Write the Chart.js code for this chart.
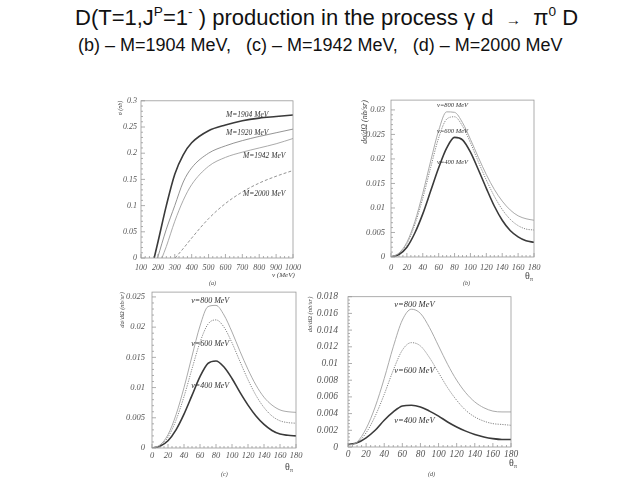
<!DOCTYPE html>
<html>
<head>
<meta charset="utf-8">
<script src="https://cdn.jsdelivr.net/npm/chart.js@4.4.1/dist/chart.umd.min.js"></script>
<style>
  html, body { margin: 0; padding: 0; background: #fff; }
  #page { position: relative; width: 640px; height: 480px; overflow: hidden; font-family: "Liberation Sans", Arial, sans-serif; }
  canvas { position: absolute; }
  .head { position: absolute; color: #111; white-space: pre; line-height: 1; }
  .head1 { left: 75px; top: 7px; font-size: 22px; }
  .head2 { left: 78px; top: 36px; font-size: 18px; }
  .head sup { font-size: 62%; vertical-align: 0.65em; line-height: 0; }
  .note { position: absolute; font-family: "Liberation Serif", serif; font-style: italic; color: #444; white-space: nowrap; line-height: 1; }
  .letter { font-size: 6px; }
  .axt { font-size: 7px; }
  .theta { font-size: 10px; font-style: normal; }
  .theta sub { font-size: 65%; vertical-align: -0.3em; }
</style>
</head>
<body>
<div id="page">
  <div class="head head1">D(T=1,J<sup>P</sup>=1<sup>-</sup> ) production in the process γ d  <span style="font-size:70%">→</span>  π<sup>0</sup> D</div>
  <div class="head head2">(b) – M=1904 MeV,   (c) – M=1942 MeV,   (d) – M=2000 MeV</div>

  <canvas id="chartA"></canvas>
  <canvas id="chartB"></canvas>
  <canvas id="chartC"></canvas>
  <canvas id="chartD"></canvas>

  <div class="note axt" style="left:272px;top:272px;">ν (MeV)</div>
  <div class="note letter" style="left:209px;top:280px;">(a)</div>
  <div class="note theta" style="left:525px;top:271px;">θ<sub>π</sub></div>
  <div class="note letter" style="left:463px;top:280px;">(b)</div>
  <div class="note theta" style="left:285px;top:462px;">θ<sub>π</sub></div>
  <div class="note letter" style="left:221px;top:471px;">(c)</div>
  <div class="note theta" style="left:509px;top:458px;">θ<sub>π</sub></div>
  <div class="note letter" style="left:428px;top:471px;">(d)</div>
</div>

<script>
// ---- data ----

// (a) total cross section vs photon energy, one curve per mass
const nu1904 = [178, 200, 250, 300, 350, 400, 500, 600, 700, 800, 900, 1000];
const sigma1904 = [0, 0.030, 0.100, 0.160, 0.197, 0.220, 0.243, 0.254, 0.262, 0.267, 0.270, 0.273];
const nu1920 = [198, 250, 300, 350, 400, 500, 600, 700, 800, 900, 1000];
const sigma1920 = [0, 0.055, 0.100, 0.145, 0.172, 0.200, 0.214, 0.224, 0.232, 0.239, 0.246];
const nu1942 = [224, 250, 300, 350, 400, 500, 600, 700, 800, 900, 1000];
const sigma1942 = [0, 0.022, 0.070, 0.110, 0.140, 0.175, 0.192, 0.202, 0.210, 0.218, 0.228];
const nu2000 = [302, 350, 400, 500, 600, 700, 800, 900, 1000];
const sigma2000 = [0, 0.018, 0.038, 0.075, 0.104, 0.126, 0.143, 0.156, 0.167];
const massLabels = ["M=1904 MeV", "M=1920 MeV", "M=1942 MeV", "M=2000 MeV"];

// (b)-(d) angular distributions
const theta = [0, 10, 20, 30, 40, 50, 60, 70, 80, 90, 100, 110, 120, 130, 140, 150, 160, 170, 180];
const b800 = [0, 0.0008, 0.0030, 0.0072, 0.0130, 0.0196, 0.0258, 0.0296, 0.0295, 0.0274, 0.0240, 0.0203, 0.0168, 0.0138, 0.0114, 0.0096, 0.0084, 0.0078, 0.0075];
const b600 = [0, 0.0007, 0.0027, 0.0066, 0.0120, 0.0183, 0.0243, 0.0281, 0.0286, 0.0267, 0.0233, 0.0194, 0.0157, 0.0124, 0.0097, 0.0077, 0.0064, 0.0057, 0.0055];
const b400 = [0, 0.0005, 0.0020, 0.0049, 0.0088, 0.0135, 0.0182, 0.0222, 0.0244, 0.0239, 0.0214, 0.0178, 0.0140, 0.0104, 0.0075, 0.0054, 0.0041, 0.0033, 0.0030];
const c800 = [0, 0.0005, 0.0022, 0.0055, 0.0100, 0.0152, 0.0202, 0.0234, 0.0236, 0.0220, 0.0192, 0.0160, 0.0130, 0.0104, 0.0084, 0.0071, 0.0063, 0.0060, 0.0059];
const c600 = [0, 0.0004, 0.0018, 0.0046, 0.0085, 0.0131, 0.0175, 0.0205, 0.0212, 0.0200, 0.0174, 0.0143, 0.0113, 0.0087, 0.0067, 0.0053, 0.0045, 0.0042, 0.0041];
const c400 = [0, 0.0003, 0.0012, 0.0030, 0.0056, 0.0087, 0.0118, 0.0140, 0.0144, 0.0134, 0.0115, 0.0092, 0.0071, 0.0053, 0.0039, 0.0029, 0.0023, 0.0021, 0.0020];
const d800 = [0.0002, 0.0006, 0.0022, 0.0048, 0.0082, 0.0120, 0.0152, 0.0165, 0.0160, 0.0143, 0.0121, 0.0099, 0.0080, 0.0065, 0.0054, 0.0047, 0.0043, 0.0042, 0.0042];
const d600 = [0.0002, 0.0005, 0.0017, 0.0037, 0.0063, 0.0092, 0.0116, 0.0125, 0.0121, 0.0107, 0.0089, 0.0071, 0.0056, 0.0044, 0.0036, 0.0031, 0.0028, 0.0027, 0.0026];
const d400 = [0.0003, 0.0005, 0.0011, 0.0020, 0.0032, 0.0042, 0.0049, 0.0050, 0.0048, 0.0043, 0.0037, 0.0030, 0.0024, 0.0019, 0.0015, 0.0012, 0.0010, 0.0009, 0.0009];
const nuLabels = ["ν=800 MeV", "ν=600 MeV", "ν=400 MeV"];

// tick values
const nuTicks = [100, 200, 300, 400, 500, 600, 700, 800, 900, 1000];
const thetaTicks = [0, 20, 40, 60, 80, 100, 120, 140, 160, 180];
const sigmaTicks = [0, 0.05, 0.1, 0.15, 0.2, 0.25, 0.3];
const bTicks = [0, 0.005, 0.01, 0.015, 0.02, 0.025, 0.03];
const cTicks = [0, 0.005, 0.01, 0.015, 0.02, 0.025];
const dTicks = [0, 0.002, 0.004, 0.006, 0.008, 0.01, 0.012, 0.014, 0.016, 0.018];

// ---- styles ----
const thick = { borderColor: "#3a3a3a", borderWidth: 1.6 };
const thin = { borderColor: "#a0a0a0", borderWidth: 0.9 };
const thinDark = { borderColor: "#888", borderWidth: 0.9 };
const dotted = { borderColor: "#777", borderWidth: 0.9, borderDash: [1.2, 1.2] };
const dashed = { borderColor: "#888", borderWidth: 0.9, borderDash: [3, 2] };

Chart.defaults.font.family = '"Liberation Serif", "DejaVu Serif", serif';
Chart.defaults.font.style = "italic";
Chart.defaults.color = "#555";
Chart.defaults.animation = false;

const YW = 44, XH = 18, TOP = 8, RIGHT = 16;

function series(xs, ys, label, style) {
    return Object.assign({
        label: label,
        data: xs.map((x, i) => ({ x: x, y: ys[i] })),
        pointRadius: 0,
        fill: false,
        tension: 0.4,
        cubicInterpolationMode: "monotone"
    }, style);
}

// frame + little inward ticks like the original plot
const frameTicks = {
    id: "frameTicks",
    afterDatasetsDraw(chart) {
        const { ctx, chartArea: a, scales: { x, y } } = chart;
        ctx.save();
        ctx.strokeStyle = "#999";
        ctx.lineWidth = 0.8;
        ctx.strokeRect(a.left, a.top, a.right - a.left, a.bottom - a.top);
        ctx.beginPath();
        const xt = x.ticks.map(t => t.value);
        xt.forEach((v, i) => {
            const px = x.getPixelForValue(v);
            ctx.moveTo(px, a.bottom); ctx.lineTo(px, a.bottom - 4);
            if (i < xt.length - 1) {
                for (let k = 1; k < 4; k++) {
                    const m = x.getPixelForValue(v + (xt[i + 1] - v) * k / 4);
                    ctx.moveTo(m, a.bottom); ctx.lineTo(m, a.bottom - 2);
                }
            }
        });
        const yt = y.ticks.map(t => t.value);
        yt.forEach((v, i) => {
            const py = y.getPixelForValue(v);
            ctx.moveTo(a.left, py); ctx.lineTo(a.left + 4, py);
            if (i < yt.length - 1) {
                for (let k = 1; k < 5; k++) {
                    const m = y.getPixelForValue(v + (yt[i + 1] - v) * k / 5);
                    ctx.moveTo(a.left, m); ctx.lineTo(a.left + 2, m);
                }
            }
        });
        ctx.stroke();
        ctx.restore();
    }
};

// labels written next to the curves, anchored in data units
const curveNotes = {
    id: "curveNotes",
    afterDatasetsDraw(chart, args, opts) {
        const { ctx, scales: { x, y } } = chart;
        ctx.save();
        ctx.font = "italic " + opts.size + 'px "Liberation Serif", serif';
        ctx.fillStyle = "#333";
        ctx.textBaseline = "middle";
        (opts.items || []).forEach(n => {
            ctx.fillText(n.text, x.getPixelForValue(n.x), y.getPixelForValue(n.y));
        });
        ctx.restore();
    }
};

function makeChart(id, box, cfg) {
    const canvas = document.getElementById(id);
    const w = box.r - box.l + YW + RIGHT;
    const h = box.b - box.t + TOP + XH;
    canvas.width = w; canvas.height = h;
    canvas.style.left = (box.l - YW) + "px";
    canvas.style.top = (box.t - TOP) + "px";
    canvas.style.width = w + "px";
    canvas.style.height = h + "px";

    return new Chart(canvas.getContext("2d"), {
        type: "line",
        data: { datasets: cfg.datasets },
        options: {
            responsive: false,
            devicePixelRatio: 1,
            layout: { padding: { left: 0, top: TOP, right: RIGHT, bottom: 0 } },
            plugins: {
                legend: { display: false },
                tooltip: { enabled: false },
                curveNotes: { items: cfg.notes, size: cfg.noteSize }
            },
            scales: {
                x: {
                    type: "linear",
                    min: cfg.xMin, max: cfg.xMax,
                    grid: { display: false, drawTicks: false },
                    border: { display: false },
                    afterBuildTicks: s => { s.ticks = cfg.xTicks.map(v => ({ value: v })); },
                    afterFit: s => { s.height = XH; },
                    ticks: {
                        autoSkip: false, maxRotation: 0, padding: cfg.xPad,
                        font: { size: cfg.tickSize },
                        callback: v => String(v)
                    }
                },
                y: {
                    type: "linear",
                    min: 0, max: cfg.yMax,
                    grid: { display: false, drawTicks: false },
                    border: { display: false },
                    afterBuildTicks: s => { s.ticks = cfg.yTicks.map(v => ({ value: v })); },
                    afterFit: s => { s.width = YW; },
                    ticks: {
                        autoSkip: false, padding: cfg.yPad,
                        font: { size: cfg.tickSize },
                        callback: v => String(v)
                    },
                    title: {
                        display: true,
                        text: cfg.yTitle,
                        align: "end",
                        color: "#444",
                        font: { size: cfg.titleSize },
                        padding: { top: cfg.yTitlePad, bottom: 0 }
                    }
                }
            }
        },
        plugins: [frameTicks, curveNotes]
    });
}

makeChart("chartA", { l: 141, t: 100, r: 293, b: 258 }, {
    xMin: 100, xMax: 1000, yMax: 0.3,
    xTicks: nuTicks, yTicks: sigmaTicks,
    tickSize: 8, xPad: 5, yPad: 4, noteSize: 7.5,
    yTitle: "σ (nb)", titleSize: 6, yTitlePad: 20,
    datasets: [
        series(nu1904, sigma1904, massLabels[0], thick),
        series(nu1920, sigma1920, massLabels[1], thinDark),
        series(nu1942, sigma1942, massLabels[2], thin),
        series(nu2000, sigma2000, massLabels[3], dashed)
    ],
    notes: [
        { text: massLabels[0], x: 603, y: 0.273 },
        { text: massLabels[1], x: 603, y: 0.239 },
        { text: massLabels[2], x: 704, y: 0.194 },
        { text: massLabels[3], x: 704, y: 0.122 }
    ]
});

makeChart("chartB", { l: 391, t: 97, r: 534, b: 257 }, {
    xMin: 0, xMax: 180, yMax: 0.032,
    xTicks: thetaTicks, yTicks: bTicks,
    tickSize: 8.5, xPad: 5.5, yPad: 6, noteSize: 6.5,
    yTitle: "dσ/dΩ (nb/sr)", titleSize: 8, yTitlePad: 13,
    datasets: [
        series(theta, b800, nuLabels[0], thin),
        series(theta, b600, nuLabels[1], dotted),
        series(theta, b400, nuLabels[2], thick)
    ],
    notes: [
        { text: nuLabels[0], x: 58, y: 0.031 },
        { text: nuLabels[1], x: 58, y: 0.0256 },
        { text: nuLabels[2], x: 58, y: 0.0194 }
    ]
});

makeChart("chartC", { l: 152, t: 288, r: 296, b: 448 }, {
    xMin: 0, xMax: 180, yMax: 0.0258,
    xTicks: thetaTicks, yTicks: cTicks,
    tickSize: 8.5, xPad: 3, yPad: 7, noteSize: 8,
    yTitle: "dσ/dΩ (nb/sr)", titleSize: 6.5, yTitlePad: 10,
    datasets: [
        series(theta, c800, nuLabels[0], thin),
        series(theta, c600, nuLabels[1], dotted),
        series(theta, c400, nuLabels[2], thick)
    ],
    notes: [
        { text: nuLabels[0], x: 49, y: 0.0243 },
        { text: nuLabels[1], x: 49, y: 0.0172 },
        { text: nuLabels[2], x: 49, y: 0.0103 }
    ]
});

makeChart("chartD", { l: 348, t: 289, r: 511, b: 447 }, {
    xMin: 0, xMax: 180, yMax: 0.018,
    xTicks: thetaTicks, yTicks: dTicks,
    tickSize: 9.5, xPad: 1.5, yPad: 10, noteSize: 8.5,
    yTitle: "dσ/dΩ (nb/sr)", titleSize: 6.5, yTitlePad: 2,
    datasets: [
        series(theta, d800, nuLabels[0], thin),
        series(theta, d600, nuLabels[1], dotted),
        series(theta, d400, nuLabels[2], thick)
    ],
    notes: [
        { text: nuLabels[0], x: 51, y: 0.0170 },
        { text: nuLabels[1], x: 51, y: 0.0091 },
        { text: nuLabels[2], x: 51, y: 0.0032 }
    ]
});
</script>
</body>
</html>
